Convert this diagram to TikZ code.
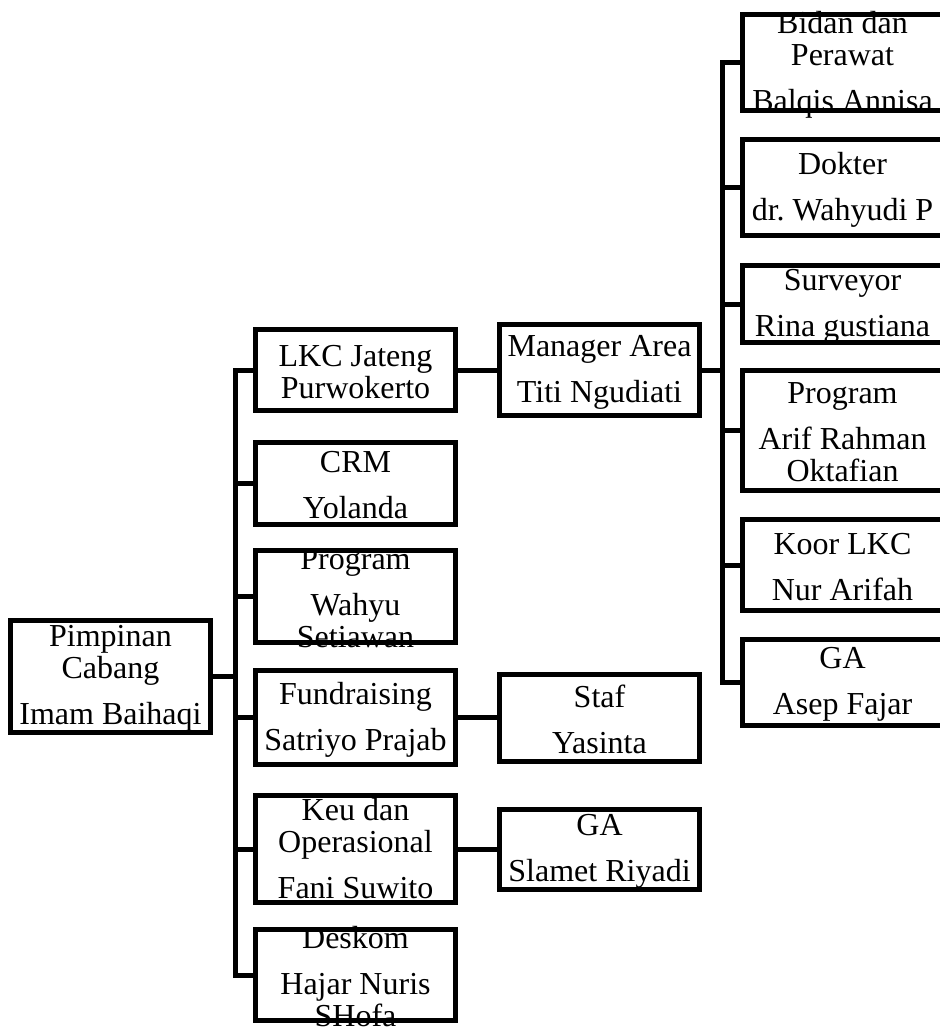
\documentclass[tikz,border=0pt]{standalone}
\usepackage{fontspec}
\setmainfont{Liberation Serif}
\begin{document}
\begin{tikzpicture}[
	                 x = 1pt,
	                 y = -1pt,
	      box/.style = {draw, line width=5pt, minimum width=200pt, inner sep=0pt},
	      txt/.style = {align=center, inner sep=0pt, font=\fontsize{32}{32}\selectfont},
	     conn/.style = {draw, line width=5pt},
	                   ]
		\useasboundingbox (0,0) rectangle (939,1027);
		% pimpinan
		\node[txt] (pimpinan-t) at (110.5,678.5) {Pimpinan\\Cabang\\[14pt]Imam Baihaqi};
		\node[box, minimum height=112pt] (pimpinan) at (110.5,676.5) {};
		% second column
		\node[txt] (lkc-t) at (355.5,372) {LKC Jateng\\Purwokerto};
		\node[box, minimum height=81pt] (lkc) at (355.5,370) {};
		\node[txt] (crm-t) at (355.5,485.5) {CRM\\[14pt]Yolanda};
		\node[box, minimum height=82pt] (crm) at (355.5,483.5) {};
		\node[txt] (program-t) at (355.5,598.5) {Program\\[14pt]Wahyu\\Setiawan};
		\node[box, minimum height=92pt] (program) at (355.5,596.5) {};
		\node[txt] (fundraising-t) at (355.5,719.5) {Fundraising\\[14pt]Satriyo Prajab};
		\node[box, minimum height=94pt] (fundraising) at (355.5,717.5) {};
		\node[txt] (keu-t) at (355.5,849) {Keu dan\\Operasional\\[14pt]Fani Suwito};
		\node[box, minimum height=107pt] (keu) at (355.5,849) {};
		\node[txt] (deskom-t) at (355.5,977) {Deskom\\[14pt]Hajar Nuris\\SHofa};
		\node[box, minimum height=91pt] (deskom) at (355.5,975) {};
		% third column
		\node[txt] (manager-t) at (599.5,372) {Manager Area\\[14pt]Titi Ngudiati};
		\node[box, minimum height=91pt] (manager) at (599.5,370) {};
		\node[txt] (staf-t) at (599.5,719.5) {Staf\\[14pt]Yasinta};
		\node[box, minimum height=87pt] (staf) at (599.5,717.5) {};
		\node[txt] (gaslamet-t) at (599.5,851) {GA\\[14pt]Slamet Riyadi};
		\node[box, minimum height=80pt] (gaslamet) at (599.5,849) {};
		% fourth column
		\node[txt] (bidan-t) at (842.5,64.5) {Bidan dan\\Perawat\\[14pt]Balqis Annisa};
		\node[box, minimum height=96pt] (bidan) at (842.5,62.5) {};
		\node[txt] (dokter-t) at (842.5,189.5) {Dokter\\[14pt]dr.\ Wahyudi P};
		\node[box, minimum height=96pt] (dokter) at (842.5,187.5) {};
		\node[txt] (surveyor-t) at (842.5,306) {Surveyor\\[14pt]Rina gustiana};
		\node[box, minimum height=77pt] (surveyor) at (842.5,304) {};
		\node[txt] (programlkc-t) at (842.5,432.5) {Program\\[14pt]Arif Rahman\\Oktafian};
		\node[box, minimum height=120pt] (programlkc) at (842.5,430.5) {};
		\node[txt] (koor-t) at (842.5,567) {Koor LKC\\[14pt]Nur Arifah};
		\node[box, minimum height=91pt] (koor) at (842.5,565) {};
		\node[txt] (gaasep-t) at (842.5,684.5) {GA\\[14pt]Asep Fajar};
		\node[box, minimum height=86pt] (gaasep) at (842.5,682.5) {};
		% connectors
		\foreach \n in {lkc,crm,program,fundraising,keu,deskom}
		    \draw[conn] (pimpinan.east) -- ++(22.5,0) |- (\n.west);
		\foreach \n in {bidan,dokter,surveyor,programlkc,koor,gaasep}
		    \draw[conn] (manager.east) -- ++(20.5,0) |- (\n.west);
		\draw[conn] (lkc) -- (manager);
		\draw[conn] (fundraising) -- (staf);
		\draw[conn] (keu) -- (gaslamet);
\end{tikzpicture}
\end{document}
